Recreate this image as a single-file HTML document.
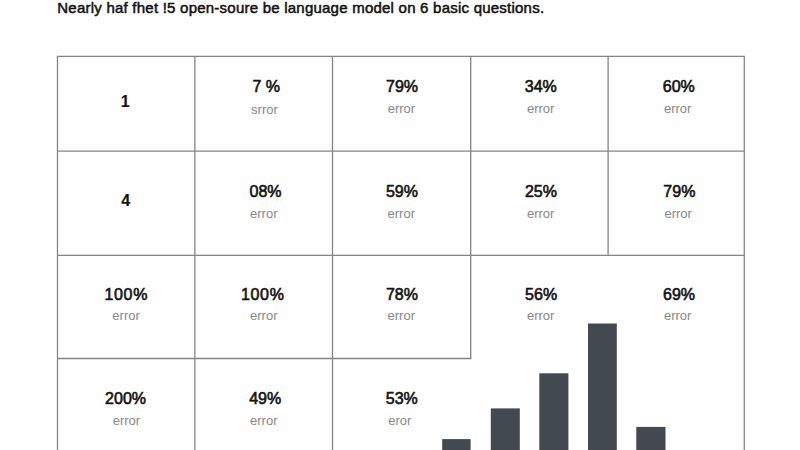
<!DOCTYPE html><html><head><meta charset="utf-8"><style>html,body{margin:0;padding:0;background:#fefefe;width:800px;height:450px;overflow:hidden}svg{display:block}</style></head><body>
<svg width="800" height="450" viewBox="0 0 800 450">
<rect width="800" height="450" fill="#fefefe"/>
<text x="57.3" y="12.9" font-family="Liberation Sans" font-size="15" letter-spacing="0.23" fill="#111" stroke="#111" stroke-width="0.5">Nearly haf fhet !5 open-soure be language model on 6 basic questions.</text>
<line x1="56.85" y1="56.40" x2="744.95" y2="56.40" stroke="#858585" stroke-width="1.30" stroke-linecap="butt"/>
<line x1="57.50" y1="151.10" x2="744.30" y2="151.10" stroke="#858585" stroke-width="1.30" stroke-linecap="butt"/>
<line x1="57.50" y1="255.30" x2="744.30" y2="255.30" stroke="#858585" stroke-width="1.30" stroke-linecap="butt"/>
<line x1="57.50" y1="358.50" x2="471.35" y2="358.50" stroke="#858585" stroke-width="1.30" stroke-linecap="butt"/>
<line x1="57.50" y1="56.40" x2="57.50" y2="451.00" stroke="#858585" stroke-width="1.30" stroke-linecap="butt"/>
<line x1="194.90" y1="56.40" x2="194.90" y2="451.00" stroke="#858585" stroke-width="1.30" stroke-linecap="butt"/>
<line x1="332.50" y1="56.40" x2="332.50" y2="451.00" stroke="#858585" stroke-width="1.30" stroke-linecap="butt"/>
<line x1="470.70" y1="56.40" x2="470.70" y2="358.50" stroke="#858585" stroke-width="1.30" stroke-linecap="butt"/>
<line x1="608.10" y1="56.40" x2="608.10" y2="255.30" stroke="#858585" stroke-width="1.30" stroke-linecap="butt"/>
<line x1="744.30" y1="56.40" x2="744.30" y2="451.00" stroke="#858585" stroke-width="1.30" stroke-linecap="butt"/>
<rect x="442.20" y="439.10" width="28.40" height="12.90" fill="#434950"/>
<rect x="490.80" y="408.40" width="29.00" height="43.60" fill="#434950"/>
<rect x="539.30" y="373.30" width="29.10" height="78.70" fill="#434950"/>
<rect x="588.00" y="323.50" width="28.80" height="128.50" fill="#434950"/>
<rect x="636.30" y="426.90" width="29.20" height="25.10" fill="#434950"/>
<g font-family="Liberation Sans" font-size="16" fill="#141414" stroke="#141414" stroke-width="0.6" text-anchor="middle">
<text x="125.20" y="107.00" font-weight="bold" stroke-width="0.15">1</text>
<text x="266.25" y="92.00">7 %</text>
<text x="402.05" y="92.00">79%</text>
<text x="540.80" y="92.00">34%</text>
<text x="678.80" y="92.00">60%</text>
<text x="125.60" y="206.10" font-weight="bold" stroke-width="0.15">4</text>
<text x="265.55" y="197.00">08%</text>
<text x="401.90" y="197.00">59%</text>
<text x="540.95" y="197.00">25%</text>
<text x="679.35" y="197.00">79%</text>
<text x="126.30" y="299.70" letter-spacing="0.7">100%</text>
<text x="262.80" y="299.70" letter-spacing="0.7">100%</text>
<text x="401.90" y="299.70">78%</text>
<text x="541.10" y="299.70">56%</text>
<text x="679.05" y="299.70">69%</text>
<text x="125.55" y="404.20">200%</text>
<text x="265.15" y="404.20">49%</text>
<text x="401.80" y="404.20">53%</text>
</g>
<g font-family="Liberation Sans" font-size="13" fill="#888888" text-anchor="middle">
<text x="264.45" y="113.60">srror</text>
<text x="401.40" y="113.40">error</text>
<text x="540.70" y="113.40">error</text>
<text x="677.65" y="113.40">error</text>
<text x="263.80" y="218.10">error</text>
<text x="401.30" y="218.10">error</text>
<text x="540.70" y="218.10">error</text>
<text x="678.15" y="218.10">error</text>
<text x="126.10" y="319.90">error</text>
<text x="263.75" y="319.90">error</text>
<text x="401.30" y="319.90">error</text>
<text x="540.70" y="319.90">error</text>
<text x="677.70" y="319.90">error</text>
<text x="126.40" y="424.80">error</text>
<text x="263.75" y="424.50">error</text>
<text x="399.85" y="424.50">eror</text>
</g>
</svg></body></html>
